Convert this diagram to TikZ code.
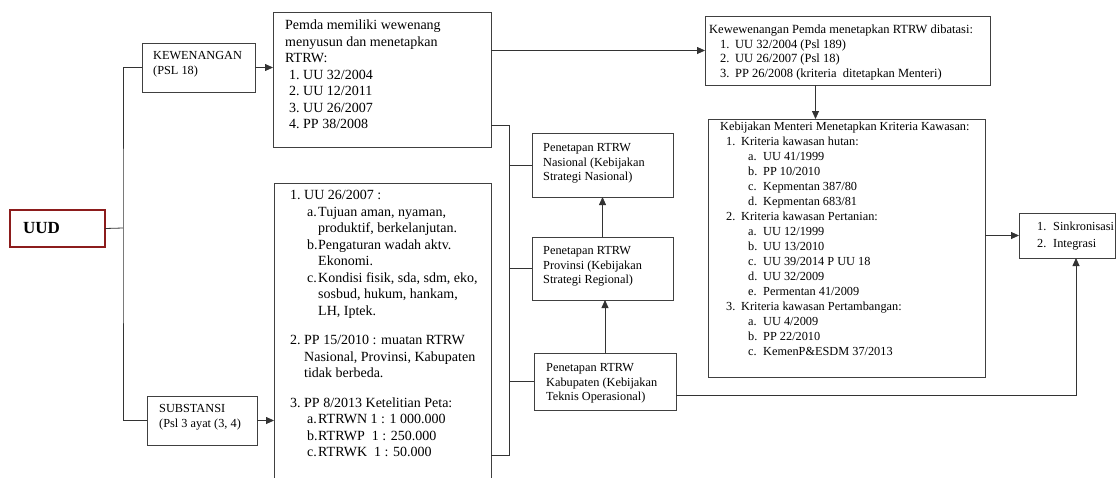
\documentclass[tikz,border=0pt]{standalone}
\usepackage{fontspec}
\setmainfont{Liberation Serif}
\usetikzlibrary{arrows.meta}
\definecolor{framecolor}{gray}{0.25}
\definecolor{linecolor}{gray}{0.2}
\definecolor{uudcolor}{RGB}{140,28,28}

\begin{document}
\begin{tikzpicture}[
	x=1pt, y=-1pt,
	frame/.style={rectangle, draw=framecolor, line width=0.9pt, anchor=north west,
		inner sep=0pt, outer sep=0pt},
	smalltxt/.style={font=\fontsize{12.3}{14.8}\selectfont},
	bigtxt/.style={font=\fontsize{14}{16.5}\selectfont},
	conn/.style={draw=linecolor, line width=0.8pt},
	arr/.style={conn, -{Triangle[length=8pt,width=7pt]}},
]
\useasboundingbox (0,0) rectangle (1117,477);
% Input 1: options of the text (shift from the top left corner, font).
\def\infobox#1[#2](#3)#4{
	\node[frame, #2](#3){};
	\node[anchor=north west, inner sep=0pt, align=left, #1] at (#3.north west)
		(#3box) {#4};
}
% \entry{indent}{label width}{label}.
\def\entry#1#2#3{\hspace*{#1}\makebox[#2][l]{#3}}

	\infobox{xshift=13pt, yshift=-12pt, font=\fontsize{17}{20}\selectfont\bfseries}[at={(10,210)},
		minimum width=95, minimum height=37, draw=uudcolor, line width=1.3pt](uud){UUD}
	\infobox{smalltxt, xshift=11pt, yshift=-8pt}[at={(142,43)},
		minimum width=113, minimum height=49](kew)
		{KEWENANGAN\\(PSL 18)}
	\infobox{smalltxt, xshift=12pt, yshift=-8pt}[at={(147,396)},
		minimum width=110, minimum height=49](sub)
		{SUBSTANSI\\(Psl 3 ayat (3, 4)}
	\infobox{bigtxt, xshift=12pt, yshift=-8pt}[at={(273,12)},
		minimum width=218, minimum height=135](pemda)
		{Pemda memiliki wewenang\\menyusun dan menetapkan\\RTRW:\\
		\entry{4pt}{14pt}{1.}UU 32/2004\\
		\entry{4pt}{14pt}{2.}UU 12/2011\\
		\entry{4pt}{14pt}{3.}UU 26/2007\\
		\entry{4pt}{14pt}{4.}PP 38/2008}
	\infobox{bigtxt, xshift=16pt, yshift=-7pt}[at={(274,183)},
		minimum width=217, minimum height=297](subst)
		{\entry{0pt}{14pt}{1.}UU 26/2007 :\\
		\entry{17pt}{11pt}{a.}Tujuan aman, nyaman,\\
		\entry{28pt}{0pt}{}produktif, berkelanjutan.\\
		\entry{17pt}{11pt}{b.}Pengaturan wadah aktv.\\
		\entry{28pt}{0pt}{}Ekonomi.\\
		\entry{17pt}{11pt}{c.}Kondisi fisik, sda, sdm, eko,\\
		\entry{28pt}{0pt}{}sosbud, hukum, hankam,\\
		\entry{28pt}{0pt}{}LH, Iptek.\\[13pt]
		\entry{0pt}{14pt}{2.}PP 15/2010 : muatan RTRW\\
		\entry{14pt}{0pt}{}Nasional, Provinsi, Kabupaten\\
		\entry{14pt}{0pt}{}tidak berbeda.\\[13pt]
		\entry{0pt}{14pt}{3.}PP 8/2013 Ketelitian Peta:\\
		\entry{17pt}{11pt}{a.}RTRWN 1 : 1 000.000\\
		\entry{17pt}{11pt}{b.}RTRWP\ \ 1 : 250.000\\
		\entry{17pt}{11pt}{c.}RTRWK\ \ 1 : 50.000}
	\infobox{smalltxt, xshift=11pt, yshift=-10pt}[at={(532,133)},
		minimum width=141, minimum height=64](nas)
		{Penetapan RTRW\\Nasional (Kebijakan\\Strategi Nasional)}
	\infobox{smalltxt, xshift=11pt, yshift=-9pt}[at={(532,237)},
		minimum width=141, minimum height=63](prov)
		{Penetapan RTRW\\Provinsi (Kebijakan\\Strategi Regional)}
	\infobox{smalltxt, xshift=12pt, yshift=-10pt}[at={(534,353)},
		minimum width=142, minimum height=57](kab)
		{Penetapan RTRW\\Kabupaten (Kebijakan\\Teknis Operasional)}
	\infobox{font=\fontsize{12.5}{14.5}\selectfont, xshift=4pt, yshift=-9pt}[at={(705,16)},
		minimum width=285, minimum height=69](batas)
		{Kewewenangan Pemda menetapkan RTRW dibatasi:\\
		\entry{11pt}{15pt}{1.}UU 32/2004 (Psl 189)\\
		\entry{11pt}{15pt}{2.}UU 26/2007 (Psl 18)\\
		\entry{11pt}{15pt}{3.}PP 26/2008 (kriteria\ \ ditetapkan Menteri)}
	\infobox{font=\fontsize{12.3}{15}\selectfont, xshift=12pt, yshift=-3pt}[at={(708,119)},
		minimum width=277, minimum height=258](kriteria)
		{Kebijakan Menteri Menetapkan Kriteria Kawasan:\\
		\entry{6pt}{15pt}{1.}Kriteria kawasan hutan:\\
		\entry{28pt}{15pt}{a.}UU 41/1999\\
		\entry{28pt}{15pt}{b.}PP 10/2010\\
		\entry{28pt}{15pt}{c.}Kepmentan 387/80\\
		\entry{28pt}{15pt}{d.}Kepmentan 683/81\\
		\entry{6pt}{15pt}{2.}Kriteria kawasan Pertanian:\\
		\entry{28pt}{15pt}{a.}UU 12/1999\\
		\entry{28pt}{15pt}{b.}UU 13/2010\\
		\entry{28pt}{15pt}{c.}UU 39/2014 P UU 18\\
		\entry{28pt}{15pt}{d.}UU 32/2009\\
		\entry{28pt}{15pt}{e.}Permentan 41/2009\\
		\entry{6pt}{15pt}{3.}Kriteria kawasan Pertambangan:\\
		\entry{28pt}{15pt}{a.}UU 4/2009\\
		\entry{28pt}{15pt}{b.}PP 22/2010\\
		\entry{28pt}{15pt}{c.}KemenP\&ESDM 37/2013}
	\infobox{font=\fontsize{12.3}{17}\selectfont, xshift=18pt, yshift=-9pt}[at={(1019,213)},
		minimum width=96, minimum height=45](sink)
		{\entry{0pt}{16pt}{1.}Sinkronisasi\\
		\entry{0pt}{16pt}{2.}Integrasi}

	% left bracket from UUD
	\coordinate (lspine) at (123,228);
	\draw[conn] (uud.east) -- (lspine);
	\draw[conn] (kew.west) -| (lspine) |- (sub.west);
	\draw[arr] (kew.east) -- (kew.east -| pemda.west);
	\draw[arr] (sub.east) -- (sub.east -| subst.west);
	\draw[arr] (pemda.east |- batas.west) -- (batas.west);
	\draw[arr] ([xshift=-32pt]batas.south) -- ([xshift=-32pt]batas.south |- kriteria.north);
	% right bracket to the three levels
	\coordinate (rtop) at (509,125);
	\coordinate (rbot) at (509,455);
	\draw[conn] (pemda.east |- rtop) -- (rtop) -- (rbot) -- (rbot -| subst.east);
	\foreach \lvl in {nas,prov,kab}
		\draw[conn] (\lvl.west) -- (\lvl.west -| rtop);
	\draw[arr] (prov.north) -- (prov.north |- nas.south);
	\draw[arr] (kab.north) -- (kab.north |- prov.south);
	\coordinate (kcorner) at (1076,395);
	\draw[arr] (kab.east |- kcorner) -- (kcorner) -- (kcorner |- sink.south);
	\draw[arr] (kriteria.east |- sink.west) -- (sink.west);
\end{tikzpicture}
\end{document}
